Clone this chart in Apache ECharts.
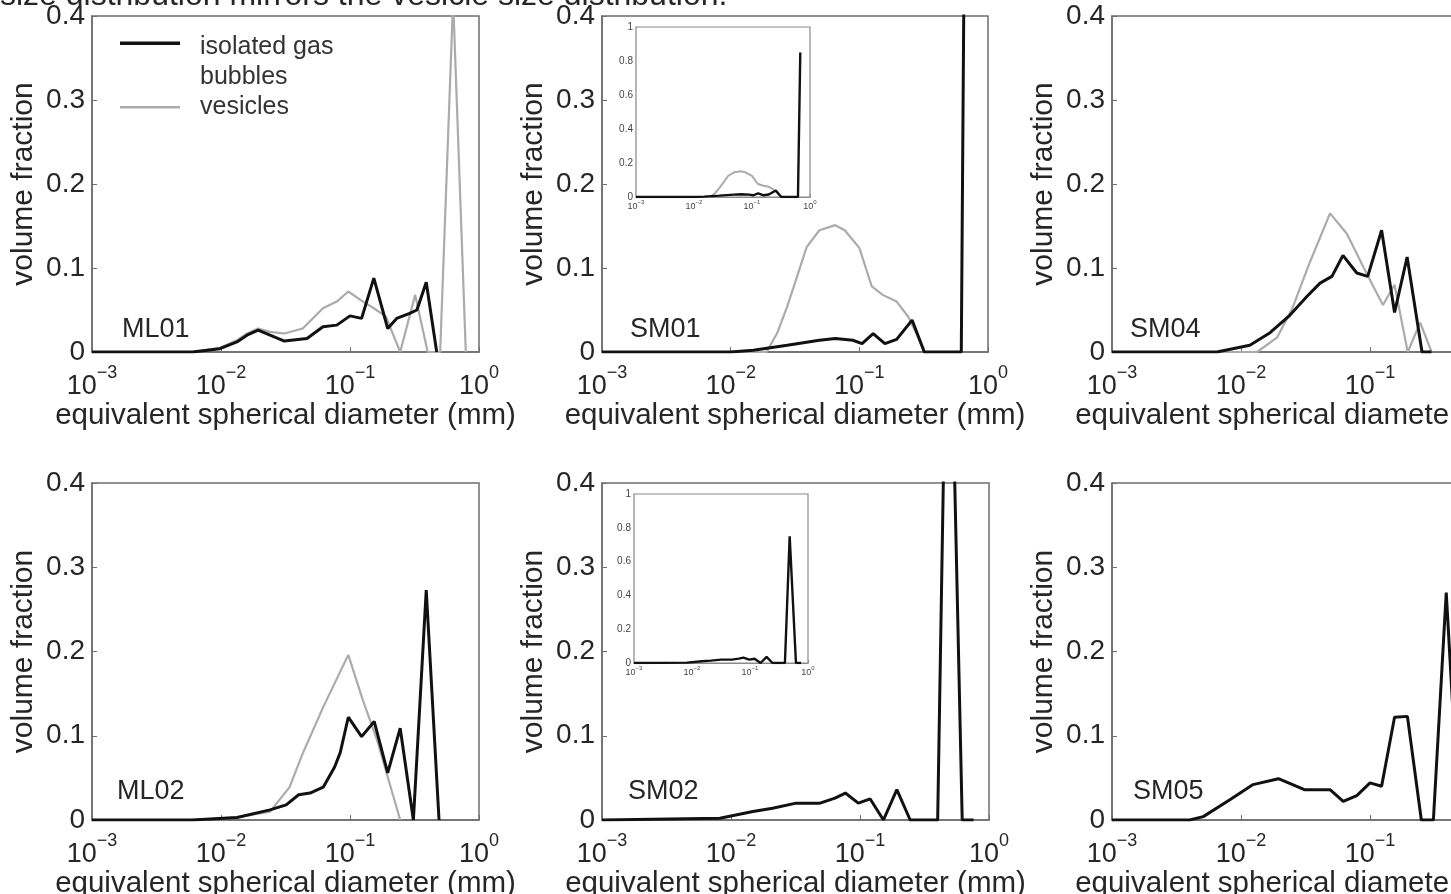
<!DOCTYPE html>
<html><head><meta charset="utf-8">
<script src="https://cdn.jsdelivr.net/npm/echarts@6/dist/echarts.min.js"></script>
<style>html,body{margin:0;padding:0;background:#fff}#c{width:1451px;height:894px}</style>
</head><body><div id="c"></div>
<script>
// ---------- data (diameter mm, volume fraction) ----------
const xTickExponents = [-3, -2, -1, 0];
const yTickLabels = ['0', '0.1', '0.2', '0.3', '0.4'];
const insetYTickLabels = ['0', '0.2', '0.4', '0.6', '0.8', '1'];
const panelNames = ['ML01', 'SM01', 'SM04', 'ML02', 'SM02', 'SM05'];
const legendNames = ['isolated gas\nbubbles', 'vesicles'];
const captionText = 'size distribution mirrors the vesicle size distribution.';

const ml01Bubbles = [[0.001,0],[0.006,0],[0.0098,0.004],[0.0133,0.012],[0.0159,0.020],[0.0194,0.026],[0.024,0.020],[0.031,0.013],[0.0464,0.016],[0.0617,0.030],[0.079,0.032],[0.1,0.043],[0.123,0.040],[0.153,0.088],[0.196,0.028],[0.23,0.040],[0.29,0.046],[0.33,0.050],[0.39,0.083],[0.47,0]];
const ml01Vesicles = [[0.001,0],[0.006,0],[0.0098,0.005],[0.0133,0.014],[0.0159,0.022],[0.0194,0.028],[0.024,0.024],[0.031,0.022],[0.043,0.028],[0.0617,0.052],[0.079,0.060],[0.097,0.072],[0.126,0.060],[0.15,0.053],[0.19,0.042],[0.245,0],[0.32,0.068],[0.40,0],[0.50,0],[0.63,0.42],[0.79,0]];

const sm01Bubbles = [[0.001,0],[0.01,0],[0.015,0.002],[0.0275,0.008],[0.049,0.014],[0.065,0.016],[0.089,0.014],[0.105,0.010],[0.128,0.022],[0.158,0.010],[0.195,0.015],[0.257,0.038],[0.32,0],[0.62,0],[0.68,0.85]];
const sm01Vesicles = [[0.001,0],[0.019,0],[0.0229,0.022],[0.0275,0.054],[0.039,0.125],[0.049,0.145],[0.065,0.151],[0.077,0.145],[0.1,0.124],[0.125,0.078],[0.152,0.068],[0.195,0.060],[0.24,0.042],[0.285,0.018],[0.32,0]];

const sm04Bubbles = [[0.001,0],[0.0065,0],[0.0117,0.008],[0.0168,0.023],[0.024,0.044],[0.0324,0.066],[0.041,0.082],[0.0507,0.090],[0.0617,0.115],[0.079,0.094],[0.096,0.090],[0.123,0.145],[0.155,0.047],[0.194,0.113],[0.253,0],[0.30,0]];
const sm04Vesicles = [[0.001,0],[0.0133,0],[0.019,0.017],[0.025,0.052],[0.034,0.106],[0.049,0.165],[0.066,0.141],[0.089,0.101],[0.126,0.056],[0.155,0.080],[0.196,0],[0.245,0.035],[0.30,0]];

const ml02Bubbles = [[0.001,0],[0.006,0],[0.0133,0.003],[0.024,0.012],[0.032,0.018],[0.040,0.030],[0.049,0.032],[0.062,0.039],[0.076,0.063],[0.084,0.080],[0.097,0.122],[0.123,0.099],[0.154,0.117],[0.196,0.056],[0.245,0.109],[0.31,0],[0.39,0.273],[0.49,0]];
const ml02Vesicles = [[0.001,0],[0.006,0],[0.0133,0.003],[0.024,0.010],[0.034,0.039],[0.043,0.079],[0.062,0.134],[0.097,0.196],[0.126,0.142],[0.162,0.095],[0.245,0]];

const sm02Bubbles = [[0.001,0],[0.0082,0.002],[0.0148,0.010],[0.021,0.014],[0.032,0.020],[0.049,0.020],[0.064,0.026],[0.077,0.032],[0.097,0.020],[0.12,0.025],[0.152,0],[0.193,0.036],[0.245,0],[0.40,0],[0.483,0.75],[0.62,0],[0.76,0]];

const sm05Bubbles = [[0.001,0],[0.004,0],[0.0051,0.004],[0.0082,0.024],[0.0124,0.042],[0.0195,0.049],[0.031,0.036],[0.049,0.036],[0.062,0.022],[0.079,0.029],[0.1,0.044],[0.123,0.040],[0.155,0.122],[0.195,0.123],[0.25,0],[0.31,0],[0.39,0.27],[0.49,0]];

// ---------- styling / layout ----------
const FONT = '"Liberation Sans", Arial, Helvetica, sans-serif';
const TXT = '#262626';
const AXIS = '#6e6e6e';
const BLACK = '#111111';
const GRAY = '#ababab';

const panels = [
  {bubbles: ml01Bubbles, vesicles: ml01Vesicles},
  {bubbles: sm01Bubbles, vesicles: sm01Vesicles},
  {bubbles: sm04Bubbles, vesicles: sm04Vesicles},
  {bubbles: ml02Bubbles, vesicles: ml02Vesicles},
  {bubbles: sm02Bubbles, vesicles: null},
  {bubbles: sm05Bubbles, vesicles: null}
];
const mainBoxes = [
  [92, 16, 387, 336], [602, 16, 386, 336], [1112, 16, 387, 336],
  [92, 483, 387, 337], [602, 483, 387, 337], [1112, 483, 387, 337]
];
const labelPos = [[122, 330], [630, 330], [1130, 330], [117, 792], [628, 792], [1133, 792]];
// insets: [left, top, width, height, parent panel index]
const insetBoxes = [[636, 27, 174, 170, 1], [634, 494, 174, 169, 4]];

function expText(v) {
  const e = Math.round(Math.log10(v));
  if (xTickExponents.indexOf(e) < 0) return '';
  return '{b|10}{s|' + (e < 0 ? '\u2212' + (-e) : String(e)) + '}';
}
const mainRich = {
  b: {fontSize: 27, verticalAlign: 'bottom', fontFamily: FONT, color: TXT},
  s: {fontSize: 18, padding: [0, 0, 18, 0], verticalAlign: 'bottom', fontFamily: FONT, color: TXT}
};
const insetRich = {
  b: {fontSize: 9, verticalAlign: 'bottom', fontFamily: FONT, color: '#444'},
  s: {fontSize: 6, padding: [0, 0, 6, 0], verticalAlign: 'bottom', fontFamily: FONT, color: '#444'}
};

const grids = [], xAxes = [], yAxes = [], series = [];

mainBoxes.forEach((b, i) => {
  grids.push({left: b[0], top: b[1], width: b[2], height: b[3], show: true,
    outerBoundsMode: 'none', containLabel: false,
    borderColor: AXIS, borderWidth: 1.5, backgroundColor: 'transparent'});
  xAxes.push({type: 'log', logBase: 10, gridIndex: i, min: 0.001, max: 1,
    name: 'equivalent spherical diameter (mm)', nameLocation: 'middle', nameGap: 47,
    nameTextStyle: {fontSize: 29.5, color: TXT, fontFamily: FONT},
    axisLine: {show: true, lineStyle: {color: AXIS, width: 1.5}},
    axisTick: {show: true, inside: true, length: 5, lineStyle: {color: AXIS}},
    splitLine: {show: false}, minorTick: {show: false},
    axisLabel: {margin: 12, formatter: expText, rich: mainRich, color: TXT}});
  yAxes.push({type: 'value', gridIndex: i, min: 0, max: 0.4, interval: 0.1,
    name: 'volume fraction', nameLocation: 'middle', nameGap: 53,
    nameTextStyle: {fontSize: 30, color: TXT, fontFamily: FONT},
    axisLine: {show: true, lineStyle: {color: AXIS, width: 1.5}},
    axisTick: {show: true, inside: true, length: 5, lineStyle: {color: AXIS}},
    splitLine: {show: false},
    axisLabel: {margin: 7, fontSize: 28, color: TXT, fontFamily: FONT,
      formatter: v => yTickLabels[Math.round(v * 10)]}});
});

insetBoxes.forEach((b, k) => {
  const gi = mainBoxes.length + k;
  grids.push({left: b[0], top: b[1], width: b[2], height: b[3], show: true,
    outerBoundsMode: 'none', containLabel: false,
    borderColor: '#8a8a8a', borderWidth: 1.2, backgroundColor: '#fff', z: 3});
  xAxes.push({type: 'log', logBase: 10, gridIndex: gi, min: 0.001, max: 1,
    axisLine: {show: true, lineStyle: {color: '#8a8a8a', width: 1.2}},
    axisTick: {show: true, inside: true, length: 3, lineStyle: {color: '#8a8a8a'}},
    splitLine: {show: false},
    axisLabel: {margin: 2, formatter: expText, rich: insetRich, color: '#444'}});
  yAxes.push({type: 'value', gridIndex: gi, min: 0, max: 1, interval: 0.2,
    axisLine: {show: true, lineStyle: {color: '#8a8a8a', width: 1.2}},
    axisTick: {show: true, inside: true, length: 3, lineStyle: {color: '#8a8a8a'}},
    splitLine: {show: false},
    axisLabel: {margin: 3, fontSize: 10, color: '#444', fontFamily: FONT,
      formatter: v => insetYTickLabels[Math.round(v * 5)]}});
});

function lineSeries(name, data, axisIndex, color, width, z) {
  return {type: 'line', name: name, data: data, xAxisIndex: axisIndex, yAxisIndex: axisIndex,
    showSymbol: false, symbol: 'none', clip: true, z: z,
    itemStyle: {color: color}, lineStyle: {color: color, width: width}, silent: true};
}

panels.forEach((p, i) => {
  const vName = i === 0 ? legendNames[1] : panelNames[i] + ' vesicles';
  const bName = i === 0 ? legendNames[0] : panelNames[i] + ' isolated gas bubbles';
  if (p.vesicles) series.push(lineSeries(vName, p.vesicles, i, GRAY, 2.2, 2));
  series.push(lineSeries(bName, p.bubbles, i, BLACK, 3, 3));
});
insetBoxes.forEach((b, k) => {
  const gi = mainBoxes.length + k;
  const p = panels[b[4]];
  if (p.vesicles) series.push(lineSeries(panelNames[b[4]] + ' inset vesicles', p.vesicles, gi, GRAY, 2, 4));
  series.push(lineSeries(panelNames[b[4]] + ' inset bubbles', p.bubbles, gi, BLACK, 2.4, 5));
});

const graphics = [{
  type: 'text', x: 0, y: -4, silent: true,
  style: {text: captionText, fill: TXT, font: '32px ' + FONT, verticalAlign: 'middle', align: 'left'}
}];
panelNames.forEach((n, i) => {
  graphics.push({type: 'text', x: labelPos[i][0], y: labelPos[i][1], silent: true, z: 10,
    style: {text: n, fill: TXT, font: '27px ' + FONT, verticalAlign: 'middle', align: 'left'}});
});

const chart = echarts.init(document.getElementById('c'));
chart.setOption({
  animation: false,
  backgroundColor: '#fff',
  grid: grids, xAxis: xAxes, yAxis: yAxes, series: series,
  legend: {
    left: 120, top: 32, orient: 'vertical', padding: 0, itemGap: -5.5,
    itemWidth: 60, itemHeight: 41, selectedMode: false,
    textStyle: {fontSize: 25, lineHeight: 30, color: '#333', fontFamily: FONT, padding: [0, 0, 0, 15]},
    data: [
      {name: legendNames[0], icon: 'path://M0,0L60,0L60,3.5L0,3.5Z M0,41L0,41Z'},
      {name: legendNames[1], icon: 'path://M0,0L0,0Z M0,19.5L60,19.5L60,22L0,22Z M0,41L0,41Z'}
    ]
  },
  graphic: graphics
});
</script>
</body></html>
